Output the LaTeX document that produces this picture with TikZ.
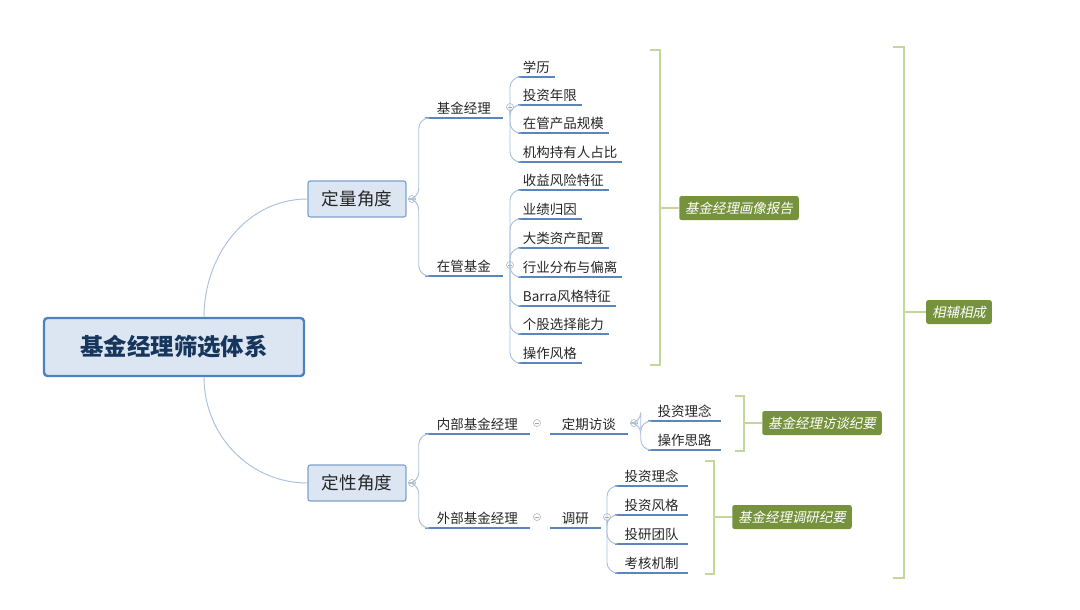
\documentclass[tikz,border=0pt]{standalone}
\usepackage{fontspec}
\newfontfamily\cjk{Noto Sans CJK SC}
\newfontfamily\cjkit[FakeSlant=0.2]{Noto Sans CJK SC}
\usepackage{tikz}
\usetikzlibrary{positioning, calc}

\definecolor{boxfill}{HTML}{DCE6F2}
\definecolor{boxline}{HTML}{7FA2CC}
\definecolor{rootline}{HTML}{4F81BD}
\definecolor{deepblue}{HTML}{17365D}
\definecolor{branch}{HTML}{A9C1DE}
\definecolor{uline}{HTML}{5B85BD}
\definecolor{brack}{HTML}{C3D69B}
\definecolor{tagfill}{HTML}{76923C}

\tikzset{
	x = 0.03cm, y = -0.03cm,
	root/.style = {draw = rootline, line width = 2pt, fill = boxfill, rounded corners = 3pt,
		minimum width = 7.8cm, minimum height = 1.74cm,
		font = \cjk\fontsize{20}{24}\selectfont\bfseries, text = deepblue},
	topic/.style = {draw = boxline, line width = 1pt, fill = boxfill, rounded corners = 2pt,
		minimum width = 2.94cm, minimum height = 1.08cm,
		font = \cjk\fontsize{15}{18}\selectfont, text = black!85},
	leaf/.style = {anchor = south west, inner xsep = 4pt, inner ysep = 3pt,
		font = \cjk\fontsize{11.5}{14}\selectfont, text = black!85},
	ul/.style = {draw = uline, line width = 1.3pt},
	conn/.style = {draw = branch, line width = 0.8pt, rounded corners = 9pt},
	knob/.style = {draw = gray!70, line width = 0.4pt, circle, inner sep = 0pt, minimum size = 6pt,
		path picture = {\draw[gray!70, line width = 0.4pt] ([xshift=-1.5pt]path picture bounding box.center) -- ([xshift=1.5pt]path picture bounding box.center);}},
	brk/.style = {draw = brack, line width = 2pt},
	tag/.style = {fill = tagfill, rounded corners = 2pt, inner xsep = 5pt,
		minimum height = 0.72cm, text = white, font = \cjkit\fontsize{11.5}{14}\selectfont},
}

\begin{document}
\begin{tikzpicture}

	% margins
	\useasboundingbox[fill = white] (0,0) rectangle (1080,610);

	% main nodes
	\node[root] (R) at (174,347) {基金经理筛选体系};
	\node[topic] (Q) at (357,199) {定量角度};
	\node[topic] (S) at (357,483) {定性角度};

	\draw[draw = branch, line width = 0.8pt] ([xshift = 0.9cm]R.north) to[out = 90, in = 180] (Q.west);
	\draw[draw = branch, line width = 0.8pt] ([xshift = 0.9cm]R.south) to[out = -90, in = 180] (S.west);

	\node[knob] (kQ) at (412,199) {};
	\node[knob] (kS) at (412,483) {};

	% ---- quantitative ----
	\node[leaf, inner xsep = 10pt] (J) at (425,118) {基金经理};
	\node[leaf, inner xsep = 10pt] (Z) at (425,276) {在管基金};
	\foreach \n in {J,Z}
		\draw[ul] (\n.south west) -- (\n.south east);
	\foreach \n in {J,Z}
		\draw[conn] (kQ.east) -- ++(3,0) |- (\n.south west);
	\node[knob] (kJ) at (510,107) {};
	\node[knob] (kZ) at (510,265) {};

	\foreach \t/\y [count = \i] in {学历/77, 投资年限/105, 在管产品规模/133, 机构持有人占比/162} {
		\node[leaf] (j\i) at (518,\y) {\t};
		\draw[ul] (j\i.south west) -- (j\i.south east);
		\draw[conn] (kJ.south) |- (j\i.south west);
	}
	\foreach \t/\y [count = \i] in {收益风险特征/190, 业绩归因/219, 大类资产配置/248, 行业分布与偏离/277,
		Barra风格特征/306, 个股选择能力/334, 操作风格/363} {
		\node[leaf] (z\i) at (518,\y) {\t};
		\draw[ul] (z\i.south west) -- (z\i.south east);
		\draw[conn] (kZ.south) |- (z\i.south west);
	}

	% ---- qualitative ----
	\node[leaf, inner xsep = 10pt] (N) at (425,434) {内部基金经理};
	\node[leaf, inner xsep = 10pt] (W) at (425,528) {外部基金经理};
	\foreach \n in {N,W} {
		\draw[ul] (\n.south west) -- (\n.south east);
		\draw[conn] (kS.east) -- ++(3,0) |- (\n.south west);
	}
	\node[knob] (kN) at (537,423) {};
	\node[knob] (kW) at (537,517) {};

	\node[leaf, inner xsep = 10pt] (D) at (550,434) {定期访谈};
	\node[leaf, inner xsep = 10pt] (T) at (550,528) {调研};
	\foreach \n in {D,T}
		\draw[ul] (\n.south west) -- (\n.south east);
	\node[knob] (kD) at (634,423) {};
	\node[knob] (kT) at (607,517) {};

	\foreach \t/\y [count = \i] in {投资理念/421, 操作思路/450} {
		\node[leaf, inner xsep = 8pt] (d\i) at (648,\y) {\t};
		\draw[ul] (d\i.south west) -- (d\i.south east);
		\draw[conn] (kD.east) -- ++(3,0) |- (d\i.south west);
	}
	\foreach \t/\y [count = \i] in {投资理念/486, 投资风格/515, 投研团队/544, 考核机制/573} {
		\node[leaf, inner xsep = 8pt] (t\i) at (615,\y) {\t};
		\draw[ul] (t\i.south west) -- (t\i.south east);
		\draw[conn] (kT.south) |- (t\i.south west);
	}

	% ---- brackets and tags ----
	\node[tag] (L1) at (739,208) {基金经理画像报告};
	\draw[brk] (650,50) -- (660,50) -- (660,365) -- (650,365);
	\draw[brk] (660,208) -- (L1.west);

	\node[tag] (L2) at (822,423) {基金经理访谈纪要};
	\draw[brk] (735,396) -- (744,396) -- (744,451) -- (735,451);
	\draw[brk] (744,423) -- (L2.west);

	\node[tag] (L3) at (792,517) {基金经理调研纪要};
	\draw[brk] (705,461) -- (714,461) -- (714,574) -- (705,574);
	\draw[brk] (714,517) -- (L3.west);

	\node[tag] (L4) at (959,312) {相辅相成};
	\draw[brk] (893,47) -- (904,47) -- (904,578) -- (893,578);
	\draw[brk] (904,312) -- (L4.west);

\end{tikzpicture}
\end{document}
